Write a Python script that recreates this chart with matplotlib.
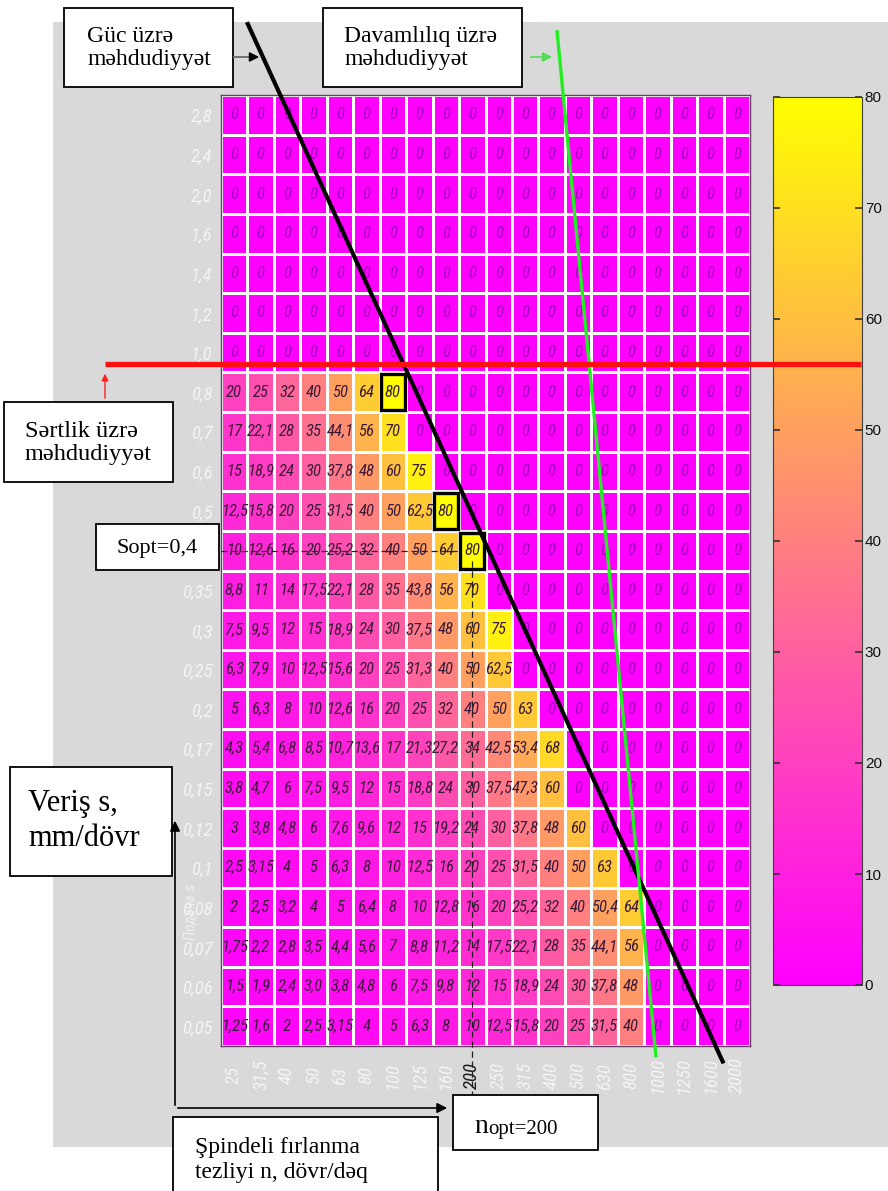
import numpy as np
import matplotlib
matplotlib.use("Agg")
import matplotlib.pyplot as plt
from matplotlib.patches import Rectangle
from matplotlib import font_manager as fm

# ---------------- data ----------------
feed_labels = ["2,8", "2,4", "2,0", "1,6", "1,4", "1,2", "1,0", "0,8", "0,7", "0,6",
               "0,5", "0,4", "0,35", "0,3", "0,25", "0,2", "0,17", "0,15", "0,12",
               "0,1", "0,08", "0,07", "0,06", "0,05"]
speed_labels = ["25", "31,5", "40", "50", "63", "80", "100", "125", "160", "200",
                "250", "315", "400", "500", "630", "800", "1000", "1250", "1600", "2000"]

zero_row = ["0"] * 20
row_280 = zero_row
row_240 = zero_row
row_200 = zero_row
row_160 = zero_row
row_140 = zero_row
row_120 = zero_row
row_100 = zero_row
row_080 = ["20", "25", "32", "40", "50", "64", "80", "0", "0", "0", "0", "0", "0", "0", "0", "0", "0", "0", "0", "0"]
row_070 = ["17", "22,1", "28", "35", "44,1", "56", "70", "0", "0", "0", "0", "0", "0", "0", "0", "0", "0", "0", "0", "0"]
row_060 = ["15", "18,9", "24", "30", "37,8", "48", "60", "75", "0", "0", "0", "0", "0", "0", "0", "0", "0", "0", "0", "0"]
row_050 = ["12,5", "15,8", "20", "25", "31,5", "40", "50", "62,5", "80", "0", "0", "0", "0", "0", "0", "0", "0", "0", "0", "0"]
row_040 = ["10", "12,6", "16", "20", "25,2", "32", "40", "50", "64", "80", "0", "0", "0", "0", "0", "0", "0", "0", "0", "0"]
row_035 = ["8,8", "11", "14", "17,5", "22,1", "28", "35", "43,8", "56", "70", "0", "0", "0", "0", "0", "0", "0", "0", "0", "0"]
row_030 = ["7,5", "9,5", "12", "15", "18,9", "24", "30", "37,5", "48", "60", "75", "0", "0", "0", "0", "0", "0", "0", "0", "0"]
row_025 = ["6,3", "7,9", "10", "12,5", "15,6", "20", "25", "31,3", "40", "50", "62,5", "0", "0", "0", "0", "0", "0", "0", "0", "0"]
row_020 = ["5", "6,3", "8", "10", "12,6", "16", "20", "25", "32", "40", "50", "63", "0", "0", "0", "0", "0", "0", "0", "0"]
row_017 = ["4,3", "5,4", "6,8", "8,5", "10,7", "13,6", "17", "21,3", "27,2", "34", "42,5", "53,4", "68", "0", "0", "0", "0", "0", "0", "0"]
row_015 = ["3,8", "4,7", "6", "7,5", "9,5", "12", "15", "18,8", "24", "30", "37,5", "47,3", "60", "0", "0", "0", "0", "0", "0", "0"]
row_012 = ["3", "3,8", "4,8", "6", "7,6", "9,6", "12", "15", "19,2", "24", "30", "37,8", "48", "60", "0", "0", "0", "0", "0", "0"]
row_010 = ["2,5", "3,15", "4", "5", "6,3", "8", "10", "12,5", "16", "20", "25", "31,5", "40", "50", "63", "0", "0", "0", "0", "0"]
row_008 = ["2", "2,5", "3,2", "4", "5", "6,4", "8", "10", "12,8", "16", "20", "25,2", "32", "40", "50,4", "64", "0", "0", "0", "0"]
row_007 = ["1,75", "2,2", "2,8", "3,5", "4,4", "5,6", "7", "8,8", "11,2", "14", "17,5", "22,1", "28", "35", "44,1", "56", "0", "0", "0", "0"]
row_006 = ["1,5", "1,9", "2,4", "3,0", "3,8", "4,8", "6", "7,5", "9,8", "12", "15", "18,9", "24", "30", "37,8", "48", "0", "0", "0", "0"]
row_005 = ["1,25", "1,6", "2", "2,5", "3,15", "4", "5", "6,3", "8", "10", "12,5", "15,8", "20", "25", "31,5", "40", "0", "0", "0", "0"]

cell_rows = [row_280, row_240, row_200, row_160, row_140, row_120, row_100, row_080,
             row_070, row_060, row_050, row_040, row_035, row_030, row_025, row_020,
             row_017, row_015, row_012, row_010, row_008, row_007, row_006, row_005]

cbar_ticks = [0, 10, 20, 30, 40, 50, 60, 70, 80]
highlight_cells = [(7, 6), (10, 8), (11, 9)]   # (row index, column index) framed cells
opt_row, opt_col = 11, 9                       # s_opt = 0,4 ; n_opt = 200

# constraint lines, in cell units of the table (col, row)
power_line = ((0.98, -1.84), (19.0, 24.44))
durability_line = ((12.7, -1.64), (16.45, 24.29))
hardness_row = 6.8
hardness_span = (-4.39, 24.2)

values = np.array([[float(s.replace(",", ".")) for s in r] for r in cell_rows])
nrows, ncols = values.shape

# ---------------- fonts ----------------
_fams = {}
for _f in fm.fontManager.ttflist:
    _fams.setdefault(_f.name, set()).add(str(_f.stretch))

def pick_narrow():
    for name in ["Liberation Sans Narrow", "Roboto Condensed", "Open Sans Condensed",
                 "Noto Sans Condensed", "DejaVu Sans Condensed", "Arial Narrow"]:
        if name in _fams:
            return name, "normal", True
    for name in ["Roboto", "Noto Sans", "Open Sans", "DejaVu Sans"]:
        st = _fams.get(name, set())
        for s in ("condensed", "semi-condensed", "extra-condensed"):
            if s in st:
                return name, s, True
    return "DejaVu Sans", "normal", False

NARROW_NAME, NARROW_STRETCH, HAVE_NARROW = pick_narrow()
NARROW = [NARROW_NAME, "DejaVu Sans"]
CELL_FS = 12 if HAVE_NARROW else 8.3
TICK_FS = 13.5 if HAVE_NARROW else 10.5
SERIF = ["Liberation Serif", "DejaVu Serif"]
SANS = ["Liberation Sans", "DejaVu Sans"]

# ---------------- figure ----------------
W, H = 888, 1191
fig = plt.figure(figsize=(W / 100, H / 100), dpi=100)
fig.patch.set_facecolor("white")

def fx(x):
    return x / W

def fy(y):
    return 1 - y / H

# gray panel behind the chart
bg = fig.add_axes([0, 0, 1, 1], zorder=-5)
bg.set_xlim(0, W)
bg.set_ylim(H, 0)
bg.axis("off")
bg.add_patch(Rectangle((53, 22), W - 53, 1147 - 22, facecolor="#d9d9d9", edgecolor="none"))

# heat table
ax = fig.add_axes([fx(221), fy(1046), (750 - 221) / W, (1046 - 95) / H], zorder=3)
mesh = ax.pcolormesh(np.arange(ncols + 1), np.arange(nrows + 1), values, cmap="spring",
                     vmin=0, vmax=80, edgecolors="white", linewidth=1.0)
ax.set_xlim(0, ncols)
ax.set_ylim(nrows, 0)
for sp in ax.spines.values():
    sp.set_color("#6a3a6a")
    sp.set_linewidth(1.0)

for i in range(nrows):
    for j in range(ncols):
        v = values[i, j]
        ax.text(j + 0.5, i + 0.5, cell_rows[i][j], ha="center", va="center",
                fontsize=CELL_FS, style="italic", family=NARROW, fontstretch=NARROW_STRETCH,
                color="#a000b8" if v == 0 else "#3a1a3a", zorder=4)

for (i, j) in highlight_cells:
    ax.add_patch(Rectangle((j + 0.05, i + 0.05), 0.9, 0.9, fill=False,
                           edgecolor="black", linewidth=2.4, zorder=5))

# optimum dashed guides
ax.plot([0, opt_col], [opt_row + 0.5, opt_row + 0.5], color="#222222", lw=0.9,
        dashes=(5, 3), zorder=4)
ax.plot([opt_col + 0.5, opt_col + 0.5], [opt_row + 0.75, nrows + 1.3], color="#222222",
        lw=0.9, dashes=(5, 3), zorder=4, clip_on=False)

# ticks
ax.set_xticks(np.arange(ncols) + 0.5)
ax.set_xticklabels(speed_labels, rotation=90, va="center", ha="center",
                   fontsize=TICK_FS, style="italic", family=NARROW,
                   fontstretch=NARROW_STRETCH, color="#f4f4f4")
ax.get_xticklabels()[opt_col].set_color("#1a1a1a")
ax.set_yticks(np.arange(nrows) + 0.5)
ax.set_yticklabels(feed_labels, fontsize=TICK_FS, style="italic", family=NARROW,
                   fontstretch=NARROW_STRETCH, color="#f4f4f4")
ax.get_yticklabels()[opt_row].set_visible(False)   # hidden behind the Sopt box
ax.tick_params(axis="x", length=0, pad=21)
ax.tick_params(axis="y", length=0, pad=6)
ax.set_xticks(np.arange(1, ncols, 2) + 0.5, minor=True)
ax.set_yticks(np.array([4, 9, 14, 19]) + 0.5, minor=True)
ax.tick_params(which="minor", direction="in", length=5, width=1, color="#303030",
               top=True, bottom=True, left=True, right=True)

# constraint lines
(x0, y0), (x1, y1) = power_line
ax.plot([x0, x1], [y0, y1], color="black", lw=3.0, clip_on=False, zorder=6,
        solid_capstyle="butt")
(x0, y0), (x1, y1) = durability_line
ax.plot([x0, x1], [y0, y1], color="#22ee22", lw=2.4, clip_on=False, zorder=6,
        solid_capstyle="butt")
ax.plot(list(hardness_span), [hardness_row, hardness_row], color="#ff1010", lw=3.8,
        clip_on=False, zorder=6, solid_capstyle="butt")

# colour bar
cax = fig.add_axes([fx(773), fy(985), (862 - 773) / W, (985 - 97) / H], zorder=2)
cb = fig.colorbar(mesh, cax=cax, ticks=cbar_ticks)
cb.outline.set_edgecolor("#404040")
cb.outline.set_linewidth(0.8)
cax.tick_params(direction="in", length=5, width=1.2, color="#303030", left=True,
                right=True, labelsize=11, labelcolor="#111111", pad=2)
for t in cax.get_yticklabels():
    t.set_family(SANS)

# overlay annotations
ov = fig.add_axes([0, 0, 1, 1], zorder=20)
ov.set_xlim(0, W)
ov.set_ylim(H, 0)
ov.axis("off")
ov.patch.set_alpha(0)

def box(x0, y0, x1, y1):
    ov.add_patch(Rectangle((x0, y0), x1 - x0, y1 - y0, facecolor="white",
                           edgecolor="black", linewidth=1.3, zorder=2))

box(64, 8, 233, 87)
ov.text(87, 48, "Güc üzrə\nməhdudiyyət", ha="left", va="center", fontsize=17,
        family=SERIF, linespacing=1.15, zorder=3)
box(323, 8, 522, 87)
ov.text(344, 48, "Davamlılıq üzrə\nməhdudiyyət", ha="left", va="center", fontsize=17,
        family=SERIF, linespacing=1.15, zorder=3)
box(4, 402, 173, 482)
ov.text(25, 443, "Sərtlik üzrə\nməhdudiyyət", ha="left", va="center", fontsize=17.5,
        family=SERIF, linespacing=1.15, zorder=3)
box(96, 524, 219, 570)
ov.text(157, 548, "Sopt=0,4", ha="center", va="center", fontsize=16,
        family=SERIF, zorder=3)
box(10, 767, 172, 876)
ov.text(28, 821, "Veriş s,\nmm/dövr", ha="left", va="center", fontsize=22,
        family=SERIF, linespacing=1.3, zorder=3)
box(173, 1117, 438, 1200)
ov.text(195, 1160, "Şpindeli fırlanma\ntezliyi n, dövr/dəq", ha="left", va="center",
        fontsize=17, family=SERIF, linespacing=1.2, zorder=3)
box(453, 1095, 598, 1150)
tn = ov.text(474, 1133, "n", ha="left", va="baseline", fontsize=20, family=SERIF, zorder=3)
ov.annotate("opt=200", xy=(1, 0), xycoords=tn, xytext=(0, 0), textcoords="offset points",
            ha="left", va="bottom", fontsize=15, family=SERIF, zorder=3)

# arrows
ov.plot([234, 251], [57, 57], color="#707070", lw=1.4)
ov.annotate("", xy=(262, 57), xytext=(249, 57),
            arrowprops=dict(arrowstyle="-|>", color="black", lw=1.2, mutation_scale=14))
ov.annotate("", xy=(555, 57), xytext=(528, 57),
            arrowprops=dict(arrowstyle="-|>", color="#55dd55", lw=1.2, mutation_scale=14))
ov.annotate("", xy=(105, 371), xytext=(105, 401),
            arrowprops=dict(arrowstyle="-|>", color="#ff2020", lw=1.0, mutation_scale=10))
ov.annotate("", xy=(175, 818), xytext=(175, 1108),
            arrowprops=dict(arrowstyle="-|>", color="black", lw=1.2, mutation_scale=15))
ov.annotate("", xy=(450, 1108), xytext=(175, 1108),
            arrowprops=dict(arrowstyle="-|>", color="black", lw=1.2, mutation_scale=15))

# russian axis caption partly visible on the left of the table
ov.text(190, 912, "Подача s", rotation=90, ha="center", va="center", fontsize=11,
        style="italic", family=NARROW, fontstretch=NARROW_STRETCH, color="#f4f4f4",
        alpha=0.85, zorder=1)

fig.savefig("out.png", dpi=100)
